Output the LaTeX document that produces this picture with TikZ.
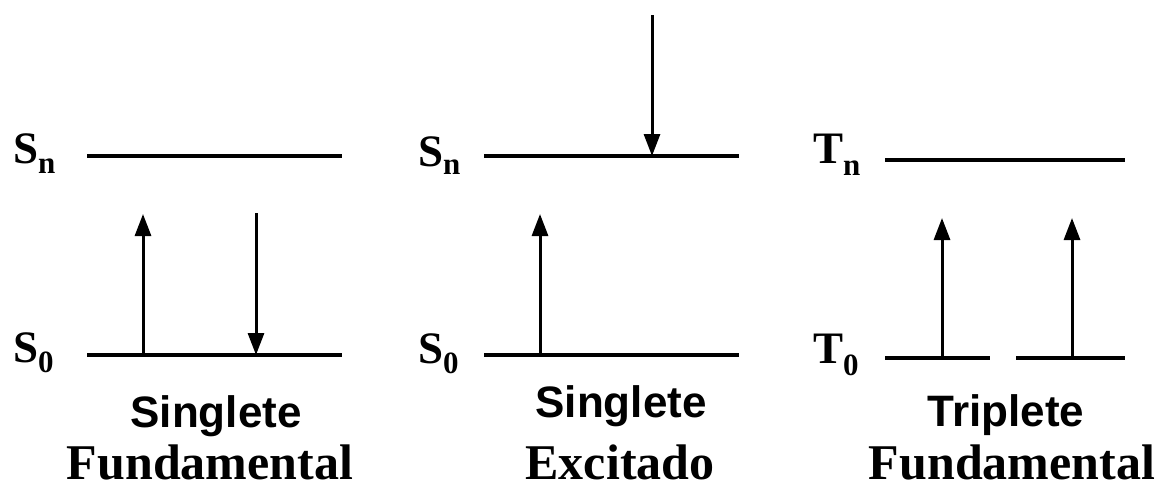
\documentclass[tikz,border=0pt]{standalone}
\usepackage{fontspec}
\setmainfont{Liberation Serif}
\setsansfont{Liberation Sans}
\usetikzlibrary{arrows.meta}
\tikzset{
  level/.style={line width=3.6pt},
  trans/.style={line width=3pt,-{Triangle[length=22pt,width=16pt]}},
  lvlabel/.style={anchor=base west,inner sep=0pt,font=\fontsize{45}{45}\selectfont\bfseries},
  sanstitle/.style={anchor=base,inner sep=0pt,font=\fontsize{44}{44}\selectfont\sffamily\bfseries},
  seriftitle/.style={anchor=base,inner sep=0pt,font=\fontsize{50}{50}\selectfont\bfseries}
}
\newcommand{\lsub}[2]{\raisebox{-#1pt}{\fontsize{31}{31}\selectfont #2}}
\begin{document}
\begin{tikzpicture}[x=1pt,y=-1pt]
\useasboundingbox (0,0) rectangle (1162,490);
% ---------- Panel 1 ----------
\node[lvlabel] (lSn1) at (13,163) {S\lsub{10}{n}};
\node[lvlabel] (lS01) at (13,362) {S\lsub{10}{0}};
\coordinate (Sn1a) at (87,156); \coordinate (Sn1b) at (342,156);
\coordinate (S01a) at (87,355); \coordinate (S01b) at (342,355);
\draw[level] (Sn1a) -- (Sn1b);
\draw[level] (S01a) -- (S01b);
\coordinate (u1s) at (143,355); \coordinate (u1e) at (143,214);
\coordinate (d1s) at (256,213); \coordinate (d1e) at (256,355);
\draw[trans] (u1s) -- (u1e);
\draw[trans] (d1s) -- (d1e);
\node[sanstitle] (t1a) at (216,427) {Singlete};
\node[seriftitle] (t1b) at (210,479) {Fundamental};
% ---------- Panel 2 ----------
\node[lvlabel] (lSn2) at (418,166) {S\lsub{8}{n}};
\node[lvlabel] (lS02) at (418,363) {S\lsub{10}{0}};
\coordinate (Sn2a) at (484,156); \coordinate (Sn2b) at (739,156);
\coordinate (S02a) at (484,355); \coordinate (S02b) at (739,355);
\draw[level] (Sn2a) -- (Sn2b);
\draw[level] (S02a) -- (S02b);
\coordinate (u2s) at (540,355); \coordinate (u2e) at (540,214);
\coordinate (d2s) at (652,15); \coordinate (d2e) at (652,156);
\draw[trans] (u2s) -- (u2e);
\draw[trans] (d2s) -- (d2e);
\node[sanstitle] (t2a) at (621,417) {Singlete};
\node[seriftitle] (t2b) at (620,479) {Excitado};
% ---------- Panel 3 ----------
\node[lvlabel] (lTn3) at (813,163) {T\lsub{12}{n}};
\node[lvlabel] (lT03) at (813,363) {T\lsub{12}{0}};
\coordinate (Tn3a) at (885,160); \coordinate (Tn3b) at (1125,160);
\coordinate (T03a) at (885,358); \coordinate (T03b) at (990,358);
\coordinate (T03c) at (1016,358); \coordinate (T03d) at (1125,358);
\draw[level] (Tn3a) -- (Tn3b);
\draw[level] (T03a) -- (T03b);
\draw[level] (T03c) -- (T03d);
\coordinate (u3s) at (942,358); \coordinate (u3e) at (942,218);
\coordinate (u4s) at (1072,358); \coordinate (u4e) at (1072,218);
\draw[trans] (u3s) -- (u3e);
\draw[trans] (u4s) -- (u4e);
\node[sanstitle] (t3a) at (1006,426) {Triplete};
\node[seriftitle] (t3b) at (1012,479) {Fundamental};
\end{tikzpicture}
\end{document}
